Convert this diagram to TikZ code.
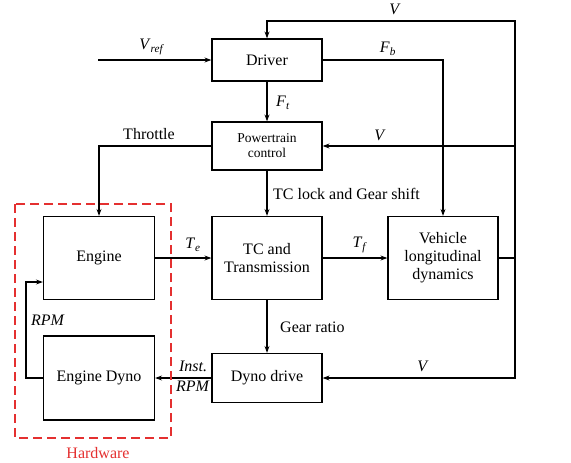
\documentclass[tikz,border=0pt]{standalone}
\usepackage{fontspec}
\setmainfont{Liberation Serif}
\usetikzlibrary{arrows.meta}
\begin{document}
\begin{tikzpicture}[x=1pt, y=-1pt,
  bloque/.style={draw, line width=1.2pt, minimum width=110pt, align=center,
    inner sep=2pt, font=\fontsize{16}{18}\selectfont},
  flecha/.style={line width=1.2pt, -{Stealth[length=7pt,width=5pt]}},
  etiq/.style={font=\fontsize{16}{18}\selectfont, inner sep=1pt}]

\definecolor{rojohw}{RGB}{228,48,48}

\def\XV{515}

\useasboundingbox (0,0) rectangle (571,463);

% === BLOQUES ===
\node[bloque, minimum height=42pt] (driver) at (267,60) {Driver};
\node[bloque, minimum height=48pt, font=\fontsize{13.5}{15}\selectfont] (ptc) at (267,146) {Powertrain\\control};
\node[bloque, minimum width=111pt, minimum height=83pt] (engine) at (99,258) {Engine};
\node[bloque, minimum height=83pt] (tc) at (267,258) {TC and\\Transmission};
\node[bloque, minimum height=83pt] (vehicle) at (443,258) {Vehicle\\longitudinal\\dynamics};
\node[bloque, minimum width=111pt, minimum height=84pt] (dyno) at (99,378) {Engine Dyno};
\node[bloque, minimum height=49pt] (dynodrive) at (267,378) {Dyno drive};

% Puntos auxiliares
\coordinate (vin) at (98,60);
\coordinate (vtop) at (\XV,21);
\coordinate (rpmc) at (26,282);

% === CONEXIONES ===
\draw[flecha] (vin) -- (driver.west);
\draw[flecha] (vehicle.east) -| (vtop) -| (driver.north);
\draw[flecha] (vtop) |- (dynodrive.east);
\draw[flecha] (vtop |- ptc) -- (ptc.east);
\draw[flecha] (driver) -- (ptc);
\draw[flecha] (driver.east) -| (vehicle.north);
\draw[flecha] (ptc.west) -| (engine.north);
\draw[flecha] (ptc) -- (tc);
\draw[flecha] (engine) -- (tc);
\draw[flecha] (tc) -- (vehicle);
\draw[flecha] (tc) -- (dynodrive);
\draw[flecha] (dynodrive) -- (dyno);
\draw[flecha] (dyno.west) -| (rpmc) -- (engine.west |- rpmc);

% === ETIQUETAS ===
\node[etiq] (lvref) at (152,47) {\textit{V}\textsubscript{\textit{ref}}};
\node[etiq] (lvtop) at (395,9) {\textit{V}};
\node[etiq] (lfb) at (388,49) {\textit{F}\textsubscript{\textit{b}}};
\node[etiq] (lft) at (283,103) {\textit{F}\textsubscript{\textit{t}}};
\node[etiq] (lthr) at (149,134) {Throttle};
\node[etiq] (lvptc) at (380,135) {\textit{V}};
\node[etiq, anchor=west] (ltcl) at (272,194) {TC lock and Gear shift};
\node[etiq] (lte) at (193,245) {\textit{T}\textsubscript{\textit{e}}};
\node[etiq] (ltf) at (360,245) {\textit{T}\textsubscript{\textit{f}}};
\node[etiq, anchor=west] (lgr) at (279,327) {Gear ratio};
\node[etiq] (lvdd) at (423,366) {\textit{V}};
\node[etiq, align=center] (linst) at (193,376) {\textit{Inst.}\\[2pt]\textit{RPM}};
\node[etiq] (lrpm) at (48,320) {\textit{RPM}};

% === HARDWARE ===
\draw[rojohw, line width=1.5pt, dash pattern=on 9pt off 5pt] (15,204) rectangle (171,438);
\node[etiq, text=rojohw] (lhw) at (98,453) {Hardware};

\end{tikzpicture}
\end{document}
